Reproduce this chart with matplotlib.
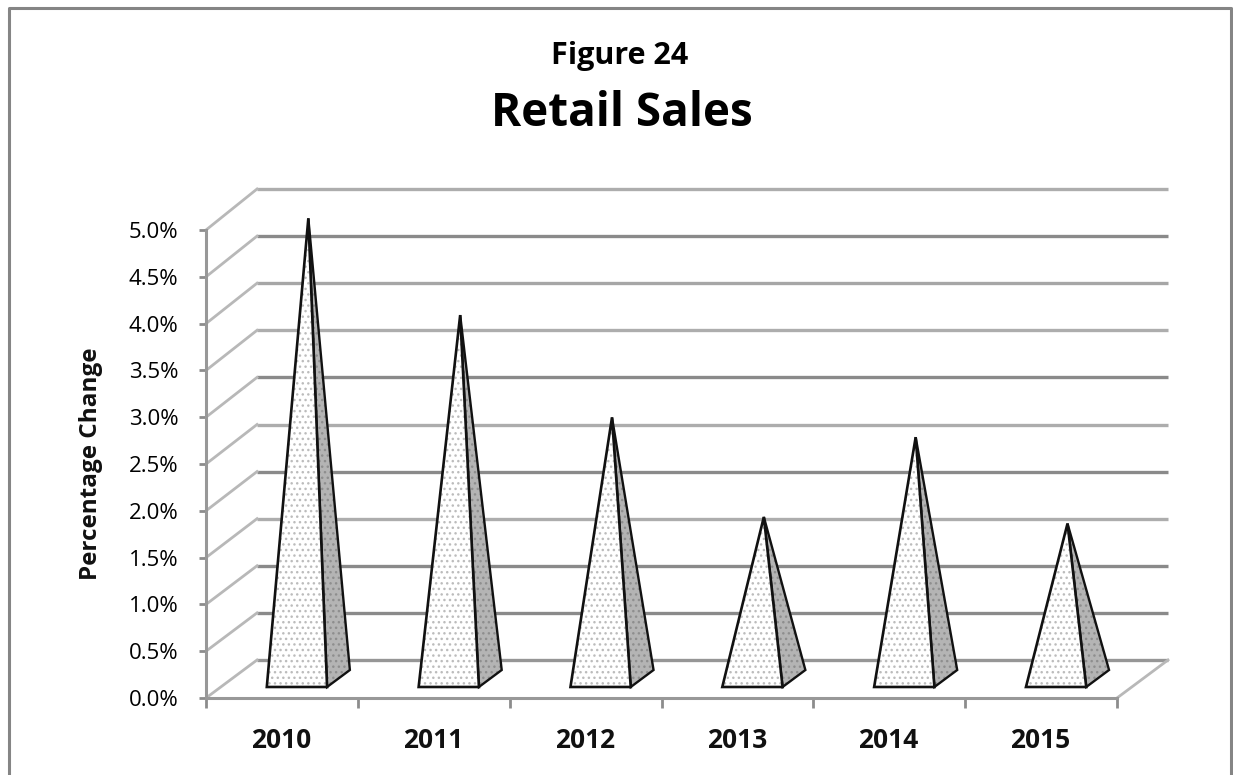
import matplotlib
matplotlib.use('Agg')
import matplotlib.pyplot as plt
from matplotlib.lines import Line2D
from matplotlib.patches import Polygon
from matplotlib.ticker import FuncFormatter

plt.rcParams['font.family'] = ['Open Sans', 'DejaVu Sans']

years = ['2010', '2011', '2012', '2013', '2014', '2015']
pct_change = [4.9, 3.87, 2.78, 1.72, 2.57, 1.65]
grid_levels = [0.0, 0.5, 1.0, 1.5, 2.0, 2.5, 3.0, 3.5, 4.0, 4.5, 5.0]
grid_colors = ['#969696', '#8a8a8a', '#8a8a8a', '#adadad', '#8a8a8a', '#adadad',
               '#8a8a8a', '#adadad', '#a6a6a6', '#8a8a8a', '#adadad']

# fake 3d: how much the back wall is shifted from the front of the floor
DEPTH_X = 0.336
DEPTH_Y = 0.406
DEPTH_SCALE = 0.0064


def project(x, val, d):
    return x + d * DEPTH_X, val * (1 + DEPTH_SCALE * d) + d * DEPTH_Y


W, H = 1233, 775
fig = plt.figure(figsize=(W / 100, H / 100), dpi=100)
ax = fig.add_axes([206 / W, (H - 698) / H, (1117 - 206) / W, (698 - 230) / H])
ax.set_xlim(0, len(years))
ax.set_ylim(0, 5)

# back wall lines + the side lines going to the front axis
n = len(years)
for level, col in zip(grid_levels, grid_colors):
    x0, y0 = project(0, level, 0)
    x1, y1 = project(0, level, 1)
    x2, y2 = project(n, level, 1)
    ax.plot([x1, x2], [y1, y2], color=col, lw=2.4, clip_on=False, zorder=1,
            solid_capstyle='butt')
    ax.plot([x0, x1], [y0, y1], color='#b8b8b8', lw=2.0, clip_on=False, zorder=1)

# right edge of the floor
x0, y0 = project(n, 0, 0)
x1, y1 = project(n, 0, 1)
ax.plot([x0, x1], [y0, y1], color='#b8b8b8', lw=2.0, clip_on=False, zorder=1)

# pyramids
BAR_L, BAR_R = 0.303, 0.70
D_FRONT, D_BACK = 0.29, 0.737
for i, val in enumerate(pct_change):
    fl = project(i + BAR_L, 0, D_FRONT)
    fr = project(i + BAR_R, 0, D_FRONT)
    br = project(i + BAR_R, 0, D_BACK)
    apex = project(i + (BAR_L + BAR_R) / 2, val, (D_FRONT + D_BACK) / 2)
    side = [fr, br, apex]
    front = [fl, fr, apex]
    ax.add_patch(Polygon(side, closed=True, facecolor='#b4b4b4', edgecolor='#8e8e8e',
                         hatch='...', lw=0, clip_on=False, zorder=3))
    ax.add_patch(Polygon(side, closed=True, fill=False, edgecolor='#111111',
                         lw=1.7, clip_on=False, zorder=4))
    ax.add_patch(Polygon(front, closed=True, facecolor='white', edgecolor='#bcbcbc',
                         hatch='...', lw=0, clip_on=False, zorder=5))
    ax.add_patch(Polygon(front, closed=True, fill=False, edgecolor='#111111',
                         lw=1.9, clip_on=False, zorder=6))

for s in ['top', 'right']:
    ax.spines[s].set_visible(False)
for s in ['left', 'bottom']:
    ax.spines[s].set_color('#989898')
    ax.spines[s].set_linewidth(2.2)
    ax.spines[s].set_zorder(2)

ax.set_yticks(grid_levels)
ax.yaxis.set_major_formatter(FuncFormatter(lambda v, p: '%.1f%%' % v))
ax.set_xticks(range(n + 1))
ax.set_xticklabels([''] * (n + 1))
ax.tick_params(axis='y', length=5, width=2, color='#8c8c8c', labelsize=16, pad=15)
ax.tick_params(axis='x', length=7, width=2, color='#8c8c8c')
ax.patch.set_alpha(0)

for i, year in enumerate(years):
    fig.text((206 + (i + 0.5) * 151.8 - 0.5) / W, 1 - 740 / H, year, ha='center', va='center',
             fontsize=19, fontweight='bold', color='#111111')

fig.text(91 / W, 1 - 464 / H, 'Percentage Change', rotation=90, ha='center', va='center',
         fontsize=17.5, fontweight='bold', color='#111111')
fig.text(620 / W, 1 - 56 / H, 'Figure 24', ha='center', va='center',
         fontsize=22, fontweight='bold', color='black')
fig.text(622 / W, 1 - 113 / H, 'Retail Sales', ha='center', va='center',
         fontsize=33, fontweight='bold', color='black')

# chart frame, open at the bottom of the image
frame = [(9, H), (9, 8), (1231, 8), (1231, H)]
fig.add_artist(Line2D([p[0] / W for p in frame], [1 - p[1] / H for p in frame],
                      color='#858585', lw=2.2))

fig.savefig('out.png', dpi=100)
